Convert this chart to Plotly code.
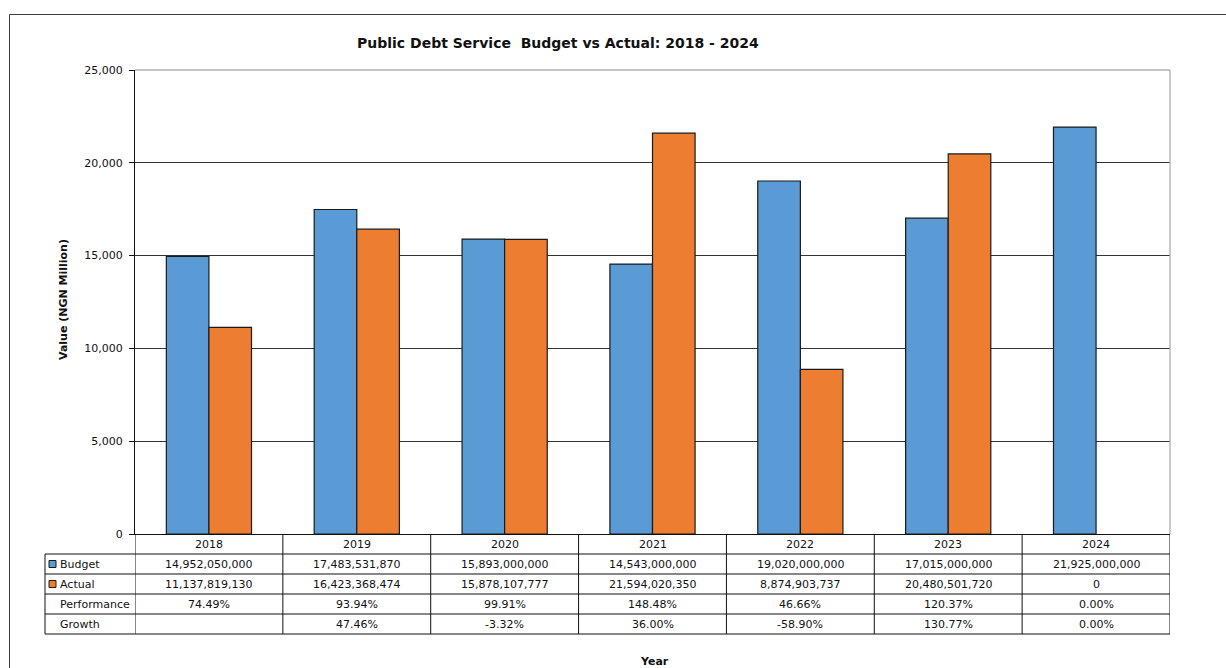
import plotly.graph_objects as go

years = ["2018", "2019", "2020", "2021", "2022", "2023", "2024"]
budget = [14952050000, 17483531870, 15893000000, 14543000000, 19020000000, 17015000000, 21925000000]
actual = [11137819130, 16423368474, 15878107777, 21594020350, 8874903737, 20480501720, 0]
performance = ["74.49%", "93.94%", "99.91%", "148.48%", "46.66%", "120.37%", "0.00%"]
growth = ["", "47.46%", "-3.32%", "36.00%", "-58.90%", "130.77%", "0.00%"]

W, H = 1226, 668
FONT = "DejaVu Sans"
BLUE = "#5B9BD5"
ORANGE = "#ED7D31"

def px(x):
    return x / W

def py(y):
    return 1 - y / H

PL, PR, PT, PB = 135, 1170, 70, 534

fig = go.Figure()
fig.add_trace(go.Bar(name="Budget", x=years, y=[v / 1e6 if v else None for v in budget],
                     marker=dict(color=BLUE, line=dict(color="#1a1a1a", width=1.2))))
fig.add_trace(go.Bar(name="Actual", x=years, y=[v / 1e6 if v else None for v in actual],
                     marker=dict(color=ORANGE, line=dict(color="#1a1a1a", width=1.2))))

shapes = []
annotations = []

# outer chart border
shapes.append(dict(type="rect", xref="paper", yref="paper", x0=px(9.5), x1=px(1260), y0=py(720), y1=py(14.5),
                   line=dict(color="#3c3c3c", width=1), layer="below"))
# plot area border (top/right)
shapes.append(dict(type="line", xref="paper", yref="paper", x0=px(PL), x1=px(PR), y0=py(PT), y1=py(PT),
                   line=dict(color="#8a8a8a", width=1.2)))
shapes.append(dict(type="line", xref="paper", yref="paper", x0=px(PR), x1=px(PR), y0=py(PT), y1=py(PB),
                   line=dict(color="#a8a8a8", width=1.2)))

# data table
row_y = [534, 554, 574, 594, 614, 634]
tcol = "#111111"
n = len(years)
for k, y in enumerate(row_y):
    if k == 0:
        continue
    shapes.append(dict(type="line", xref="paper", yref="paper", x0=px(45), x1=px(PR), y0=py(y), y1=py(y),
                       line=dict(color=tcol, width=1)))
for i in range(n + 1):
    shapes.append(dict(type="line", xref="x", yref="paper", x0=i - 0.5, x1=i - 0.5, y0=py(534), y1=py(634),
                       line=dict(color=tcol, width=1)))
shapes.append(dict(type="line", xref="paper", yref="paper", x0=px(45), x1=px(45), y0=py(554), y1=py(634),
                   line=dict(color=tcol, width=1)))

for k, c in [(1, BLUE), (2, ORANGE)]:
    yc = (row_y[k] + row_y[k + 1]) / 2
    shapes.append(dict(type="rect", xref="paper", yref="paper", x0=px(49), x1=px(56), y0=py(yc + 3.5), y1=py(yc - 3.5),
                       fillcolor=c, line=dict(color="#1a1a1a", width=1)))

labels = ["Budget", "Actual", "Performance", "Growth"]
for k, lab in enumerate(labels):
    yc = (row_y[k + 1] + row_y[k + 2]) / 2
    annotations.append(dict(xref="paper", yref="paper", x=px(58), y=py(yc), text=lab, showarrow=False,
                            xanchor="left", yanchor="middle", font=dict(family=FONT, size=11, color="#111")))

rows = [years,
        [f"{v:,}" for v in budget],
        [f"{v:,}" for v in actual],
        performance,
        growth]
for k, r in enumerate(rows):
    yc = (row_y[k] + row_y[k + 1]) / 2
    for i, t in enumerate(r):
        if t == "":
            continue
        annotations.append(dict(xref="x", yref="paper", x=i, y=py(yc), text=t, showarrow=False,
                                xanchor="center", yanchor="middle", font=dict(family=FONT, size=11, color="#111")))

annotations.append(dict(xref="paper", yref="paper", x=px(558), y=py(43),
                        text="<b>Public Debt Service\u00a0 Budget vs Actual: 2018 - 2024</b>", showarrow=False,
                        xanchor="center", yanchor="middle", font=dict(family=FONT, size=14, color="#111")))
annotations.append(dict(xref="paper", yref="paper", x=px(654), y=py(661), text="<b>Year</b>", showarrow=False,
                        xanchor="center", yanchor="middle", font=dict(family=FONT, size=11, color="#111")))
annotations.append(dict(xref="paper", yref="paper", x=px(63), y=py(300), text="<b>Value (NGN Million)</b>",
                        showarrow=False, textangle=-90, xanchor="center", yanchor="middle",
                        font=dict(family=FONT, size=11, color="#111")))

fig.update_layout(
    width=W, height=H, autosize=False,
    margin=dict(l=0, r=0, t=0, b=0, pad=0, autoexpand=False),
    paper_bgcolor="white", plot_bgcolor="white",
    barmode="group", bargap=0.424, bargroupgap=0,
    showlegend=False,
    font=dict(family=FONT, size=11, color="#111"),
    shapes=shapes, annotations=annotations,
    xaxis=dict(domain=[px(PL), px(PR)], type="category", range=[-0.5, n - 0.5], automargin=False,
               showticklabels=False, ticks="", showline=True, linecolor="#111", linewidth=1,
               showgrid=False, zeroline=False, fixedrange=True),
    yaxis=dict(domain=[py(PB), py(PT)], range=[0, 25000], dtick=5000, tickformat=",", automargin=False,
               showgrid=True, gridcolor="#333333", gridwidth=1, zeroline=False,
               showline=True, linecolor="#111", linewidth=1, ticks="outside", ticklen=5,
               ticklabelstandoff=4,
               tickcolor="#111", tickfont=dict(family=FONT, size=11, color="#111"), fixedrange=True),
)

fig.write_html("out.html", config={"displayModeBar": False},
               post_script="document.body.style.margin='0';document.body.style.overflow='hidden';")
